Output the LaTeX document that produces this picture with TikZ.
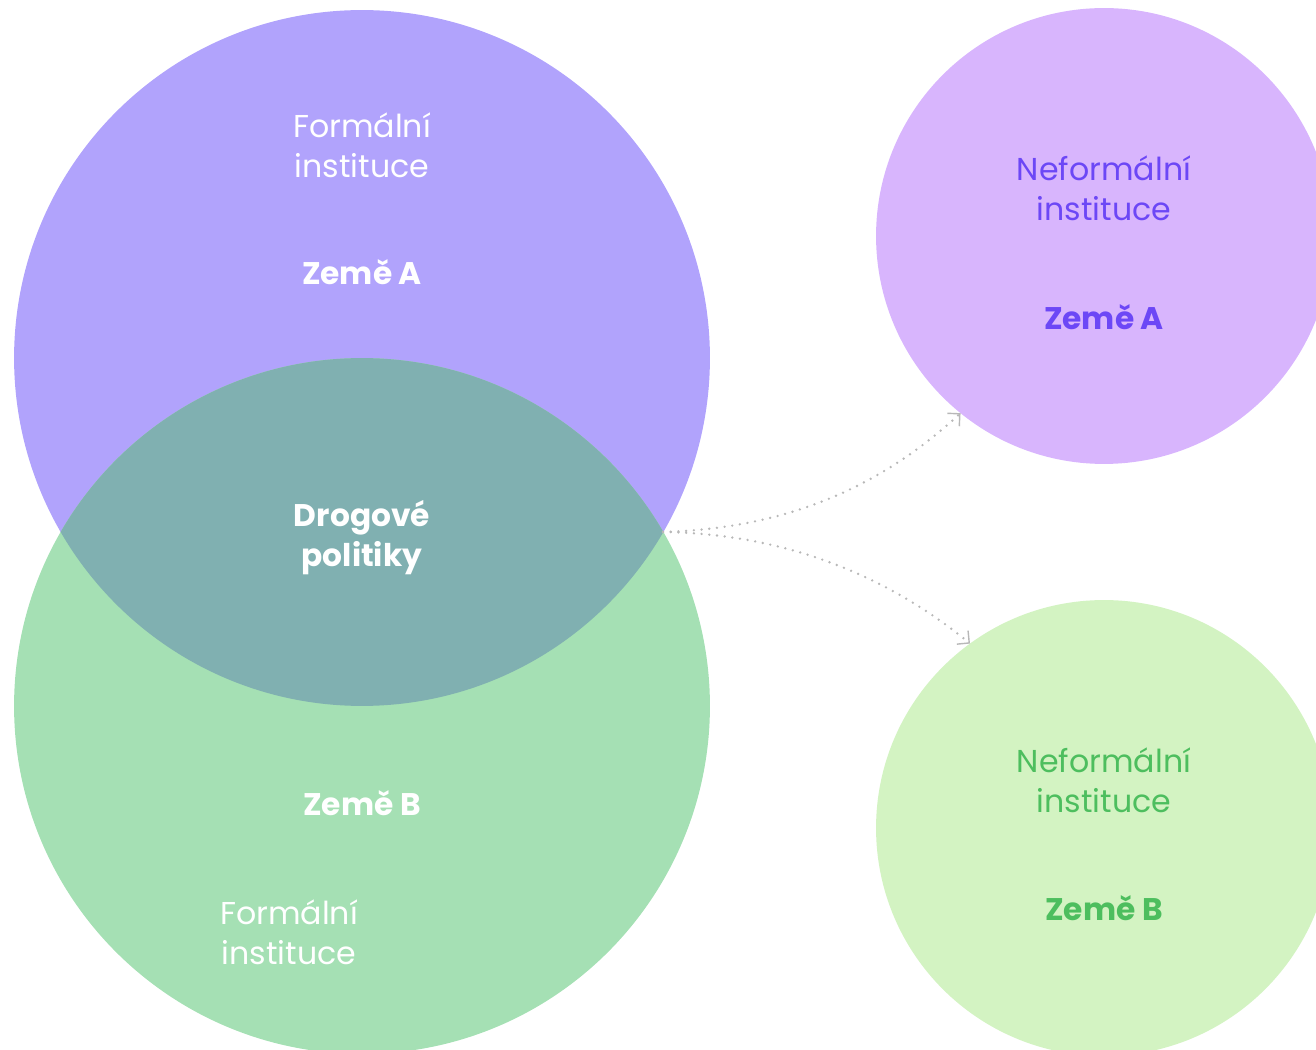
\documentclass[tikz,border=0pt]{standalone}
\usepackage{fontspec}
\setmainfont{Poppins}
\usetikzlibrary{arrows.meta}
\definecolor{lila}{HTML}{B1A3FC}
\definecolor{mint}{HTML}{A5E0B4}
\definecolor{overlap}{HTML}{80B0B1}
\definecolor{lilalight}{HTML}{D8B5FD}
\definecolor{mintlight}{HTML}{D3F3C2}
\definecolor{lilatext}{HTML}{6C47F6}
\definecolor{minttext}{HTML}{4DBE5E}
\definecolor{dotgray}{HTML}{B8B8B8}

\tikzset{
  blob/.style={circle,inner sep=0pt,outer sep=0pt,minimum size=#1},
  lbl/.style={align=center,font=\fontsize{18}{22.7}\selectfont},
  lblb/.style={align=center,font=\fontsize{17.8}{22.7}\selectfont\bfseries},
  link/.style={dotgray,line width=1.5pt,line cap=round,
    dash pattern=on 0pt off 4.4pt,
    -{Straight Barb[length=5pt,angle'=90,line width=0.8pt]}}
}

\begin{document}
\begin{tikzpicture}[x=0.02cm,y=-0.02cm]
    \useasboundingbox (0,0) rectangle (1316,1050);
    \clip (0,0) rectangle (1316,1050);
    % big circles
    \node[blob=13.92cm,fill=lila] (A) at (362,358) {};
    \node[blob=13.92cm,fill=mint] (B) at (362,706) {};
    \begin{scope}
      \clip (362,358) circle[radius=6.96cm];
      \fill[overlap] (362,706) circle[radius=6.96cm];
    \end{scope}
    % small circles
    \node[blob=9.12cm,fill=lilalight] (nA) at (1104,236) {};
    \node[blob=9.12cm,fill=mintlight] (nB) at (1104,828) {};
    \coordinate (m) at (663,532);
    % texts
    \node[lbl,white] (fA) at (362,145) {Formální\\instituce};
    \node[lblb,white] (zA) at (362,272) {Země A};
    \node[lblb,white] (dp) at (362,538) {Drogové\\politiky};
    \node[lblb,white] (zB) at (362,803) {Země B};
    \node[lbl,white] (fB) at (289,932) {Formální\\instituce};
    \node[lbl,lilatext] (nfA) at (1104,188) {Neformální\\instituce};
    \node[lblb,lilatext] (nzA) at (1104,317) {Země A};
    \node[lbl,minttext] (nfB) at (1104,780) {Neformální\\instituce};
    \node[lblb,minttext] (nzB) at (1104,908) {Země B};
    % connectors
    \draw[link] (m) .. controls (800,528) and (890,478) .. (nA.231);
    \draw[link] (m) .. controls (800,534) and (900,586) .. (nB.126);
\end{tikzpicture}
\end{document}
